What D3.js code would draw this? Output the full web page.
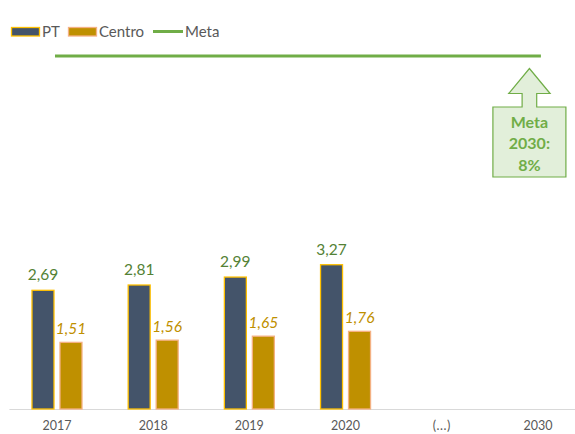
<!DOCTYPE html>
<html>
<head>
<meta charset="utf-8">
<script src="https://cdn.jsdelivr.net/npm/d3@7"></script>
<style>
  html, body { margin: 0; padding: 0; background: #fff; }
  svg { display: block; font-family: Lato, "Open Sans", sans-serif; }
</style>
</head>
<body>
<svg id="chart" width="575" height="434"></svg>
<script>
const categories = ["2017", "2018", "2019", "2020", "(...)", "2030"];
const ptValues = [2.69, 2.81, 2.99, 3.27, null, null];
const centroValues = [1.51, 1.56, 1.65, 1.76, null, null];
const metaValue = 8;
const metaLabel = ["Meta", "2030:", "8%"];
const seriesNames = ["PT", "Centro"];

const colors = {
  PT: { fill: "#44546A", stroke: "#FFC000", label: "#548235" },
  Centro: { fill: "#BF9000", stroke: "#F4B183", label: "#BF9000" },
  Meta: "#70AD47"
};

const svg = d3.select("#chart");

const x = d3.scaleBand().domain(categories).range([8.9, 586]).padding(0);
const y = d3.scaleLinear().domain([0, 8]).range([409, 56]);

// Axis
const axis = svg.append("g")
  .attr("transform", `translate(0,${y(0)})`)
  .call(d3.axisBottom(x).tickSize(0).tickPadding(12));
axis.select(".domain").attr("stroke", "#D9D9D9").attr("stroke-width", 1);
axis.selectAll("text")
  .attr("fill", "#595959")
  .style("font-family", "Lato, sans-serif")
  .style("font-size", "12.5px")
  .style("letter-spacing", d => d === "(...)" ? "0.5px" : "0px");

// Bars
const rows = categories.map((c, i) => ({ cat: c, PT: ptValues[i], Centro: centroValues[i] }));
const groupW = 50;
const inner = d3.scaleBand().domain(seriesNames).range([0, groupW]).paddingInner(2 - 50 / 28).paddingOuter(0);

const groups = svg.append("g").selectAll("g")
  .data(rows).join("g")
  .attr("transform", d => `translate(${x(d.cat) + x.bandwidth() / 2 - groupW / 2},0)`);

seriesNames.forEach(s => {
  const valid = d => d[s] != null;
  groups.filter(valid).append("rect")
    .attr("x", inner(s))
    .attr("width", inner.bandwidth())
    .attr("y", d => y(d[s]))
    .attr("height", d => y(0) - y(d[s]))
    .attr("fill", colors[s].fill)
    .attr("stroke", colors[s].stroke)
    .attr("stroke-width", 1.3);
  groups.filter(valid).append("text")
    .attr("x", inner(s) + inner.bandwidth() / 2)
    .attr("y", d => y(d[s]) - (s === "PT" ? 10 : 8))
    .attr("text-anchor", "middle")
    .attr("fill", colors[s].label)
    .style("font-size", "15.5px")
    .style("font-style", s === "Centro" ? "italic" : "normal")
    .text(d => d3.format(".2f")(d[s]).replace(".", ","));
});

// Meta line
const xc = c => x(c) + x.bandwidth() / 2;
svg.append("line")
  .attr("x1", xc(categories[0]) - 2)
  .attr("x2", xc(categories[categories.length - 1]) + 3)
  .attr("y1", y(metaValue)).attr("y2", y(metaValue))
  .attr("stroke", colors.Meta).attr("stroke-width", 3);

// Callout arrow
const cx = xc("2030") - 8.5;
const tip = y(metaValue) + 12.5;
const headBase = tip + 25;
const boxTop = tip + 38.5;
const boxBot = boxTop + 70;
const headHW = 20.7, shaftHW = 7.3, boxHW = 36.5;
const p = d3.path();
p.moveTo(cx, tip);
p.lineTo(cx + headHW, headBase);
p.lineTo(cx + shaftHW, headBase);
p.lineTo(cx + shaftHW, boxTop);
p.lineTo(cx + boxHW, boxTop);
p.lineTo(cx + boxHW, boxBot);
p.lineTo(cx - boxHW, boxBot);
p.lineTo(cx - boxHW, boxTop);
p.lineTo(cx - shaftHW, boxTop);
p.lineTo(cx - shaftHW, headBase);
p.lineTo(cx - headHW, headBase);
p.closePath();
svg.append("path").attr("d", p.toString())
  .attr("fill", "#E2EFDA").attr("stroke", colors.Meta).attr("stroke-width", 1.2);
svg.append("g").selectAll("text").data(metaLabel).join("text")
  .attr("x", cx)
  .attr("y", (d, i) => boxTop + 20.5 + i * 21.5)
  .attr("text-anchor", "middle")
  .attr("fill", colors.Meta)
  .style("font-size", "16px")
  .style("font-weight", "bold")
  .text(d => d);

// Legend
const legend = svg.append("g");
const legendItems = [
  { name: "PT", type: "rect", x: 11.5, tx: 42 },
  { name: "Centro", type: "rect", x: 68.5, tx: 99 },
  { name: "Meta", type: "line", x: 153, tx: 185 }
];
legendItems.forEach(it => {
  if (it.type === "rect") {
    legend.append("rect").attr("x", it.x).attr("y", 27.5).attr("width", 28).attr("height", 8.5)
      .attr("fill", colors[it.name].fill).attr("stroke", colors[it.name].stroke).attr("stroke-width", 1.3);
  } else {
    legend.append("line").attr("x1", it.x).attr("x2", it.x + 30).attr("y1", 31.5).attr("y2", 31.5)
      .attr("stroke", colors.Meta).attr("stroke-width", 3);
  }
  legend.append("text").attr("x", it.tx).attr("y", 37)
    .attr("fill", "#595959").style("font-size", "15px").text(it.name);
});
</script>
</body>
</html>
